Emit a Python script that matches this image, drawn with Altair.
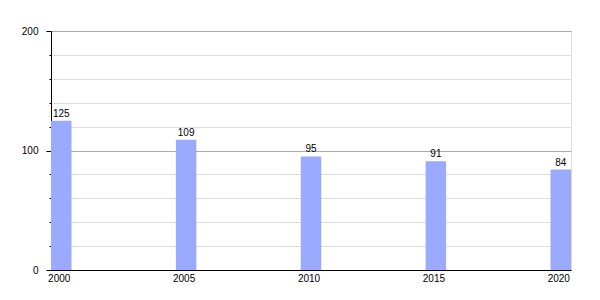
import altair as alt
import pandas as pd

years = ["2000", "2005", "2010", "2015", "2020"]
values = [125, 109, 95, 91, 84]

df = pd.DataFrame({"year": years, "value": values})

font = "Liberation Sans"

base = alt.Chart(df).encode(
    x=alt.X(
        "year:N",
        sort=None,
        scale=alt.Scale(paddingInner=0.836, paddingOuter=0),
        axis=alt.Axis(
            title=None,
            labelAngle=0,
            ticks=False,
            domainColor="#000000",
            labelColor="#000000",
            labelFont=font,
            labelFontSize=10,
            labelPadding=3,
            labelOffset=-2,
            grid=False,
        ),
    ),
    y=alt.Y(
        "value:Q",
        scale=alt.Scale(domain=[0, 200], nice=False),
        axis=alt.Axis(
            title=None,
            values=list(range(0, 201, 20)),
            labelExpr="datum.value % 100 === 0 ? datum.label : ''",
            grid=True,
            gridColor={"condition": {"test": "datum.value % 100 === 0", "value": "#aaaaaa"}, "value": "#dddddd"},
            gridWidth=1,
            tickColor="#000000",
            tickSize={"condition": {"test": "datum.value % 100 === 0", "value": 5}, "value": 2},
            domainColor="#000000",
            labelColor="#000000",
            labelFont=font,
            labelFontSize=10,
            labelPadding=8,
        ),
    ),
)

bars = base.mark_bar(color="#99AAFF")
labels = base.mark_text(baseline="bottom", dy=-2, font=font, fontSize=10, color="#000000").encode(
    text="value:Q"
)

chart = (
    (bars + labels)
    .properties(
        width=520,
        height=239,
        autosize=alt.AutoSizeParams(type="none"),
        padding={"left": 51, "top": 31, "right": 29, "bottom": 30},
    )
    .configure_view(stroke=None)
    .configure(background="white")
)

chart.save("out.html", embed_options={"renderer": "svg", "actions": False})
